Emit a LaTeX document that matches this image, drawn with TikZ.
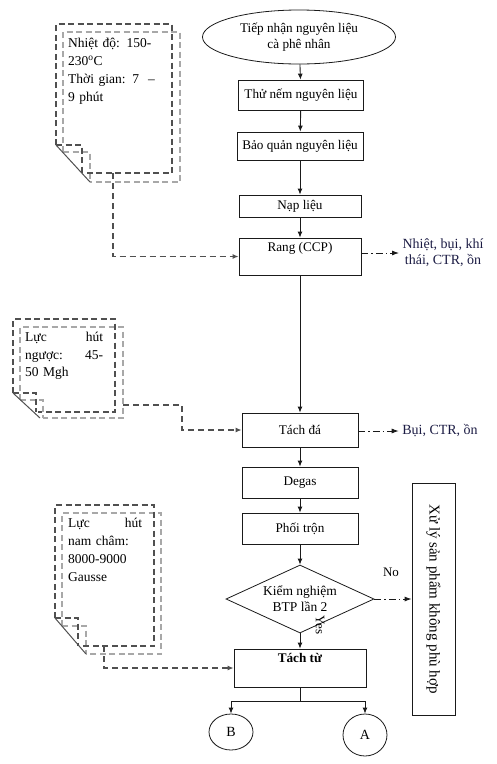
\documentclass[tikz,border=0pt]{standalone}
\usepackage{fontspec}
\setmainfont{Liberation Serif}
\usepackage{tikz}
\usetikzlibrary{arrows.meta,shapes.geometric,calc}
\definecolor{inkdark}{HTML}{1A1A1A}
\definecolor{notegray}{HTML}{505050}
\definecolor{noteshade}{HTML}{A8A8A8}
\definecolor{wastenavy}{HTML}{1C1C44}
\tikzset{
    procbox/.style={
        draw=inkdark, line width=0.8pt, fill=white,
        minimum width=122pt, minimum height=30pt,
        font=\fontsize{13.2}{15}\selectfont, align=center
    },
    startoval/.style={
        draw=inkdark, ellipse, line width=0.8pt,
        minimum width=193pt, minimum height=54pt, inner sep=0pt,
        font=\fontsize{13.2}{15.5}\selectfont, align=center
    },
    checkdiamond/.style={
        draw=inkdark, diamond, line width=0.8pt, aspect=2.2, inner sep=0pt,
        minimum width=148pt, minimum height=68pt,
        font=\fontsize{13.5}{16}\selectfont, align=center
    },
    endoval/.style={
        draw=inkdark, ellipse, line width=0.8pt, inner sep=0pt,
        font=\fontsize{14}{16}\selectfont
    },
    wastetext/.style={
        text=wastenavy, font=\fontsize{14}{16}\selectfont, align=center
    },
    notetext/.style={
        anchor=north west, inner sep=0pt,
        font=\fontsize{13.5}{18}\selectfont, align=left
    },
    notedark/.style={draw=notegray, line width=1.3pt, dash pattern=on 6pt off 3.5pt},
    notelight/.style={draw=noteshade, line width=1.1pt, dash pattern=on 6pt off 3.5pt},
    notefold/.style={draw=notegray, line width=1pt},
    arrow/.style={-{Latex[length=6pt,width=5pt]}, line width=0.9pt, color=inkdark},
    dasharrow/.style={-{Latex[length=6pt,width=5pt]}, line width=1.3pt, color=notegray, dash pattern=on 6pt off 4pt},
    dotarrow/.style={-{Latex[length=7pt,width=5pt]}, line width=0.9pt, color=inkdark, dash pattern=on 7pt off 3pt on 1.5pt off 3pt},
}
\begin{document}
\begin{tikzpicture}[x=1pt, y=-1pt]
    \useasboundingbox (0,0) rectangle (496,764);

    % main line
    \node[startoval] (tiepnhan) at (299,37) {Tiếp nhận nguyên liệu\\cà phê nhân};
    \node[procbox, minimum width=125pt, minimum height=30pt] (thunem) at (301,95) {Thử nếm nguyên liệu};
    \node[procbox, minimum width=126pt, minimum height=28pt] (baoquan) at (300,146) {Bảo quản nguyên liệu};
    \node[procbox, minimum height=22pt] (naplieu) at (300,206) {Nạp liệu};
    \node[procbox, minimum height=37pt] (rang) at (300,256.5) {Rang (CCP)\\\strut};
    \node[procbox, minimum width=116pt, minimum height=34pt] (tachda) at (300,430) {Tách đá};
    \node[procbox, minimum width=116pt, minimum height=31pt] (degas) at (300,482.5) {Degas};
    \node[procbox, minimum width=116pt, minimum height=31pt] (phoitron) at (300,528.5) {Phối trộn};
    \node[checkdiamond] (kiemnghiem) at (300,599) {Kiểm nghiệm\\BTP lần 2};
    \node[procbox, minimum width=132pt, minimum height=38pt] (tachtu) at (300,668) {\textbf{Tách từ}\\\strut};
    \node[endoval, minimum width=44pt, minimum height=36pt] (nodeB) at (231,732) {B};
    \node[endoval, minimum width=44pt, minimum height=42pt] (nodeA) at (365,735) {A};

    % side outputs
    \node[wastetext] (khithai) at (443,253) {Nhiệt, bụi, khí\\thái, CTR, ồn};
    \node[wastetext] (bui) at (440,431) {Bụi, CTR, ồn};
    \node[procbox, rotate=-90, minimum width=232pt, minimum height=43pt, font=\fontsize{15}{17}\selectfont] (xuly) at (433.5,599) {Xử lý sản phẩm không phù hợp};
    \node[font=\fontsize{13}{15}\selectfont] (nolabel) at (391,572) {No};
    \node[font=\fontsize{13}{15}\selectfont, rotate=-90] (yeslabel) at (320,625) {Yes};

    \draw[arrow] (tiepnhan) -- (thunem);
    \draw[arrow] (thunem) -- (baoquan);
    \draw[arrow] (baoquan) -- (naplieu);
    \draw[arrow] (naplieu) -- (rang);
    \draw[arrow] (rang) -- (tachda);
    \draw[arrow] (tachda) -- (degas);
    \draw[arrow] (degas) -- (phoitron);
    \draw[arrow] (phoitron) -- (kiemnghiem);
    \draw[arrow] (kiemnghiem) -- (tachtu);
    \draw[arrow] (tachtu.south) -- ++(0,14) -| (nodeB.north);
    \draw[arrow] (tachtu.south) -- ++(0,14) -| (nodeA.north);
    \draw[dotarrow] (rang.east |- khithai) -- (khithai.west);
    \draw[dotarrow] (tachda.east |- bui) -- (bui.west);
    \draw[dotarrow] (kiemnghiem.east) -- (xuly);

    % note 1
    \draw[notelight] (63,152) -- (63,32) -- (180,32) -- (180,182) -- (90,182);
    \draw[notelight] (63,152) -- (90,152) -- (90,182);
    \draw[notedark] (56,145) -- (56,24) -- (172,24) -- (172,173) -- (84,173);
    \draw[notedark] (56,145) -- (82,145) -- (82,173);
    \draw[notefold] (56,145) -- (90,182);
    \node[notetext, text width=100pt] (note1) at (68,38) {Nhiệt độ: 150-\\230\textsuperscript{o}C\\Thời gian: 7\ \ –\\9 phút};
    \coordinate (note1out) at (113,173);
    \draw[dasharrow] (note1out) |- (rang.west);

    % note 2
    \draw[notelight] (20,400) -- (20,327) -- (123,327) -- (123,418) -- (43,418);
    \draw[notelight] (20,400) -- (43,400) -- (43,418);
    \draw[notedark] (13,393) -- (13,319) -- (115,319) -- (115,412) -- (38,412);
    \draw[notedark] (13,393) -- (36,393) -- (36,412);
    \draw[notefold] (13,393) -- (40,418);
    \node[notetext, text width=78pt, font=\fontsize{13.5}{17.5}\selectfont] (note2) at (25,332) {Lực\hfill hút\\ngược:\hfill 45-\\50 Mgh};
    \coordinate (note2out) at (123,405);
    \draw[dasharrow] (note2out) -- (182,405) |- (tachda.west);

    % note 3
    \draw[notelight] (62,626) -- (62,513) -- (161,513) -- (161,654) -- (86,654);
    \draw[notelight] (62,626) -- (86,626) -- (86,654);
    \draw[notedark] (55,618) -- (55,505) -- (154,505) -- (154,646) -- (80,646);
    \draw[notedark] (55,618) -- (78,618) -- (78,646);
    \draw[notefold] (55,618) -- (86,654);
    \node[notetext, text width=74pt] (note3) at (68,518) {Lực\hfill hút\\nam châm:\\8000-9000\\Gausse};
    \coordinate (note3out) at (104,646);
    \draw[dasharrow] (note3out) |- (tachtu.west);
\end{tikzpicture}
\end{document}
